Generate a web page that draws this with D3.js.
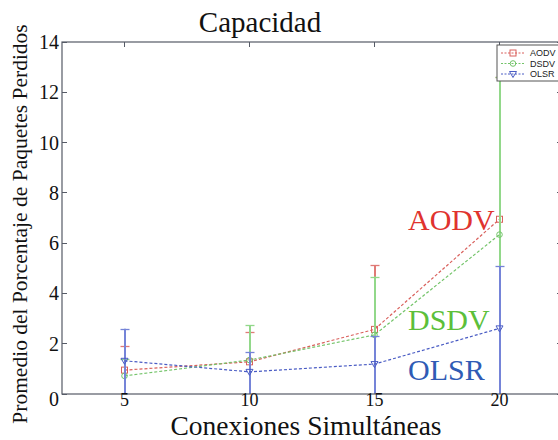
<!DOCTYPE html>
<html><head><meta charset="utf-8">
<script src="https://cdn.jsdelivr.net/npm/d3@7"></script>
<style>body{margin:0;background:#fff}svg{display:block}</style>
</head><body>
<script>
const xValues = [5, 10, 15, 20];
const xTicks = [5, 10, 15, 20];
const yTicks = [0, 2, 4, 6, 8, 10, 12, 14];
const aodv = [0.95, 1.28, 2.57, 6.95];
const aodvUpper = [1.92, 2.48, 5.13, 12.6];
const aodvLower = [0, 0, 0, 0];
const dsdv = [0.72, 1.35, 2.35, 6.34];
const dsdvUpper = [1.4, 2.74, 4.67, 12.6];
const dsdvLower = [0, 0, 0, 0];
const olsr = [1.32, 0.88, 1.19, 2.61];
const olsrUpper = [2.6, 1.68, 2.31, 5.09];
const olsrLower = [0, 0, 0, 0];
const seriesNames = ["AODV", "DSDV", "OLSR"];

const W = 558, H = 440;
const svg = d3.select("body").append("svg").attr("width", W).attr("height", H);
const x = d3.scaleLinear().domain([2.5, 22.5]).range([62, 562]);
const y = d3.scaleLinear().domain([0, 14]).range([394, 42]);

const series = [
  {name: seriesNames[0], vals: aodv, up: aodvUpper, lo: aodvLower, line: "#d9605c", bar: "#e07a76", text: "#e0332e", marker: "square"},
  {name: seriesNames[1], vals: dsdv, up: dsdvUpper, lo: dsdvLower, line: "#74c46a", bar: "#92d88a", text: "#5cbf3a", marker: "circle"},
  {name: seriesNames[2], vals: olsr, up: olsrUpper, lo: olsrLower, line: "#4a5cc4", bar: "#7584d8", text: "#2f5bb5", marker: "tri"}
];

const axisCol = "#555a66";
const g = svg.append("g").attr("shape-rendering", "crispEdges");
xTicks.forEach(t => {
  g.append("line").attr("x1", x(t)).attr("x2", x(t)).attr("y1", y(14)).attr("y2", y(14) + 5).attr("stroke", axisCol);
  g.append("line").attr("x1", x(t)).attr("x2", x(t)).attr("y1", y(0)).attr("y2", y(0) - 5).attr("stroke", axisCol);
});
yTicks.forEach(t => {
  g.append("line").attr("x1", x(2.5)).attr("x2", x(2.5) + 5).attr("y1", y(t)).attr("y2", y(t)).attr("stroke", axisCol);
  g.append("line").attr("x1", x(22.5)).attr("x2", x(22.5) - 5).attr("y1", y(t)).attr("y2", y(t)).attr("stroke", axisCol);
});

const line = d3.line().x((d, i) => x(xValues[i])).y(d => y(d));
series.forEach(s => {
  const sg = svg.append("g");
  const eb = sg.append("g");
  s.vals.forEach((v, i) => {
    const lo = Math.max(0, s.lo[i]), hi = Math.min(14, s.up[i]);
    const bx = Math.round(x(xValues[i]));
    eb.append("line").attr("x1", bx).attr("x2", bx).attr("y1", y(lo)).attr("y2", y(hi)).attr("stroke", s.bar).attr("stroke-width", 2);
    eb.append("line").attr("x1", bx - 4.5).attr("x2", bx + 4.5).attr("y1", Math.round(y(hi)) + 0.5).attr("y2", Math.round(y(hi)) + 0.5).attr("stroke", s.bar).attr("stroke-width", 1.3);
  });
  sg.append("path").attr("d", line(s.vals)).attr("fill", "none").attr("stroke", s.line).attr("stroke-width", 1.2).attr("stroke-dasharray", "3,2");
  s.vals.forEach((v, i) => drawMarker(sg, s.marker, x(xValues[i]), y(v), s.line));
});

function drawMarker(parent, type, cx, cy, col) {
  if (type === "square") parent.append("rect").attr("x", cx - 3).attr("y", cy - 3).attr("width", 6).attr("height", 6).attr("fill", "none").attr("stroke", col);
  else if (type === "circle") parent.append("circle").attr("cx", cx).attr("cy", cy).attr("r", 2.8).attr("fill", "none").attr("stroke", col);
  else parent.append("path").attr("d", `M${cx - 3.5},${cy - 2.5}L${cx + 3.5},${cy - 2.5}L${cx},${cy + 3.5}Z`).attr("fill", "none").attr("stroke", col);
}

svg.append("rect").attr("x", x(2.5)).attr("y", y(14)).attr("width", x(22.5) - x(2.5)).attr("height", y(0) - y(14)).attr("fill", "none").attr("stroke", axisCol).attr("stroke-width", 1.2);

const serif = "'Liberation Serif', 'DejaVu Serif', serif";
xTicks.forEach(t => svg.append("text").attr("x", x(t)).attr("y", 406).attr("text-anchor", "middle").attr("font-family", serif).attr("font-size", 18).attr("fill", "#111").text(t));
yTicks.forEach(t => svg.append("text").attr("x", 59).attr("y", y(t) + (t === 0 ? 5 : 0)).attr("dy", "0.35em").attr("text-anchor", "end").attr("font-family", serif).attr("font-size", 20).attr("fill", "#111").text(t));

svg.append("text").attr("x", 306).attr("y", 32).attr("text-anchor", "middle").attr("font-family", serif).attr("font-size", 29).attr("fill", "#111").attr("x", 260).text("Capacidad");
svg.append("text").attr("x", 306).attr("y", 434.8).attr("text-anchor", "middle").attr("font-family", serif).attr("font-size", 27.5).attr("fill", "#111").text("Conexiones Simultáneas");
svg.append("text").attr("transform", "translate(27,224) rotate(-90)").attr("text-anchor", "middle").attr("font-family", serif).attr("font-size", 21.5).attr("fill", "#111").text("Promedio del Porcentaje de Paquetes Perdidos");

const annY = [230, 330, 380];
series.forEach((s, i) => svg.append("text").attr("x", 408).attr("y", annY[i]).attr("font-family", serif).attr("font-size", 30).attr("fill", s.text).text(s.name));

const lg = svg.append("g");
lg.append("rect").attr("x", 497).attr("y", 45).attr("width", 70).attr("height", 36).attr("fill", "#fff").attr("stroke", "#555");
series.forEach((s, i) => {
  const ly = 53 + i * 10.5;
  lg.append("line").attr("x1", 501).attr("x2", 525).attr("y1", ly).attr("y2", ly).attr("stroke", s.line).attr("stroke-dasharray", "2,1.5");
  drawMarker(lg, s.marker, 513, ly, s.line);
  lg.append("text").attr("x", 530).attr("y", ly).attr("dy", "0.35em").attr("font-family", "'Liberation Sans', Arial, sans-serif").attr("font-size", 9).attr("fill", "#222").text(s.name);
});
</script>
</body></html>
